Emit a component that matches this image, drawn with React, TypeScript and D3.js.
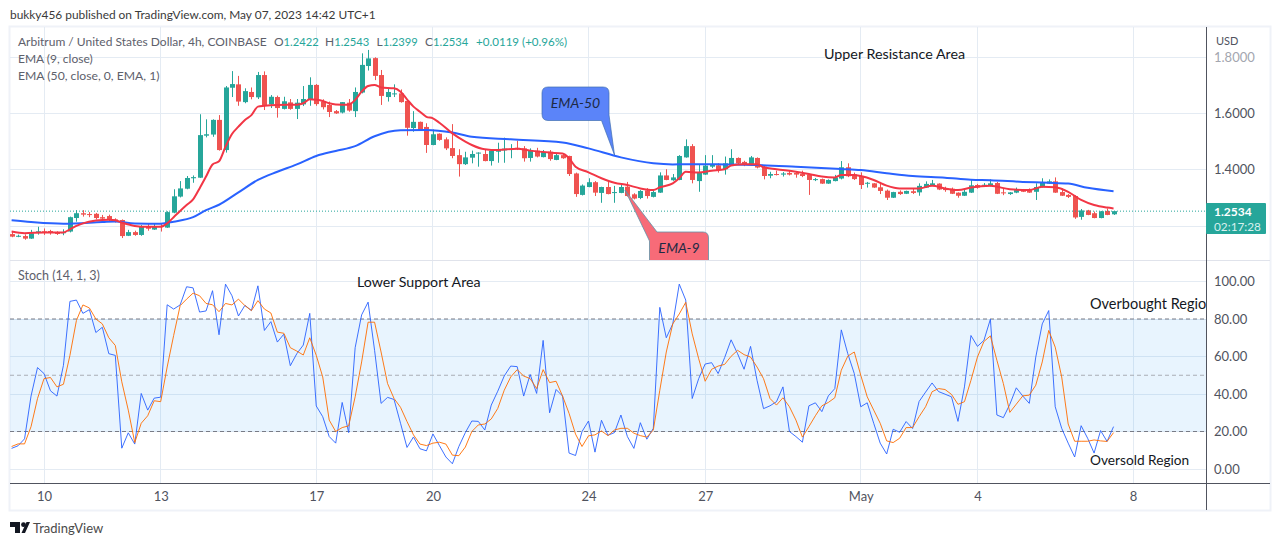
import * as d3 from "d3";
import { useEffect, useRef } from "react";

const WIDTH = 1280;
const HEIGHT = 546;

const dayTicks = ["2023-04-10", "2023-04-13", "2023-04-17", "2023-04-20", "2023-04-24", "2023-04-27", "2023-05-01", "2023-05-04", "2023-05-08"];
const dayLabels = ["10", "13", "17", "20", "24", "27", "May", "4", "8"];
const priceGrid = [1.8, 1.6, 1.4, 1.2];
const priceLabels = [1.8, 1.6, 1.4];
const stochTicks = [100, 80, 60, 40, 20, 0];
const stochLevels = [80, 50, 20];

// first 4h bar, every row below is one bar after it
const firstBar = Date.UTC(2023, 3, 9, 4);
const barMs = 4 * 3600 * 1000;

// open, high, low, close
const ohlc: number[][] = [
  [1.172, 1.181, 1.161, 1.163], [1.164, 1.170, 1.161, 1.166], [1.165, 1.171, 1.152, 1.156], [1.156, 1.187, 1.155, 1.175],
  [1.177, 1.198, 1.170, 1.182], [1.182, 1.192, 1.169, 1.177], [1.183, 1.187, 1.170, 1.176], [1.176, 1.182, 1.169, 1.174],
  [1.175, 1.189, 1.168, 1.179], [1.181, 1.234, 1.178, 1.232], [1.229, 1.257, 1.216, 1.246], [1.246, 1.257, 1.234, 1.241],
  [1.243, 1.250, 1.232, 1.240], [1.244, 1.247, 1.224, 1.229], [1.232, 1.240, 1.222, 1.227], [1.236, 1.241, 1.217, 1.222],
  [1.224, 1.228, 1.213, 1.220], [1.222, 1.224, 1.158, 1.165], [1.166, 1.187, 1.165, 1.179], [1.179, 1.184, 1.166, 1.169],
  [1.169, 1.204, 1.166, 1.198], [1.198, 1.208, 1.184, 1.191], [1.188, 1.208, 1.187, 1.197], [1.201, 1.210, 1.181, 1.197],
  [1.195, 1.253, 1.194, 1.250], [1.248, 1.331, 1.246, 1.306], [1.305, 1.360, 1.302, 1.334], [1.333, 1.378, 1.331, 1.371],
  [1.370, 1.380, 1.354, 1.374], [1.372, 1.597, 1.371, 1.523], [1.521, 1.579, 1.515, 1.526], [1.525, 1.579, 1.517, 1.577],
  [1.577, 1.594, 1.468, 1.470], [1.470, 1.697, 1.461, 1.692], [1.691, 1.750, 1.658, 1.704], [1.703, 1.733, 1.627, 1.642],
  [1.640, 1.689, 1.636, 1.679], [1.676, 1.692, 1.650, 1.658], [1.657, 1.747, 1.651, 1.736], [1.736, 1.749, 1.612, 1.627],
  [1.632, 1.665, 1.619, 1.659], [1.658, 1.663, 1.585, 1.619], [1.616, 1.659, 1.614, 1.643], [1.639, 1.651, 1.613, 1.616],
  [1.616, 1.651, 1.580, 1.638], [1.632, 1.697, 1.626, 1.651], [1.648, 1.728, 1.627, 1.701], [1.701, 1.704, 1.627, 1.633],
  [1.642, 1.650, 1.614, 1.622], [1.630, 1.642, 1.587, 1.605], [1.608, 1.612, 1.598, 1.600], [1.603, 1.640, 1.600, 1.640],
  [1.638, 1.651, 1.606, 1.610], [1.608, 1.692, 1.587, 1.676], [1.674, 1.813, 1.671, 1.772], [1.768, 1.825, 1.752, 1.795],
  [1.796, 1.799, 1.718, 1.733], [1.736, 1.754, 1.630, 1.662], [1.658, 1.691, 1.642, 1.676], [1.669, 1.703, 1.658, 1.671],
  [1.671, 1.685, 1.638, 1.640], [1.644, 1.645, 1.521, 1.549], [1.548, 1.608, 1.535, 1.570], [1.570, 1.571, 1.539, 1.541],
  [1.552, 1.565, 1.460, 1.488], [1.488, 1.543, 1.487, 1.526], [1.528, 1.529, 1.503, 1.506], [1.508, 1.515, 1.470, 1.476],
  [1.477, 1.562, 1.441, 1.449], [1.452, 1.473, 1.376, 1.420], [1.420, 1.464, 1.417, 1.444], [1.443, 1.468, 1.423, 1.456],
  [1.458, 1.462, 1.411, 1.461], [1.456, 1.473, 1.430, 1.431], [1.431, 1.473, 1.415, 1.467], [1.464, 1.496, 1.425, 1.470],
  [1.469, 1.514, 1.425, 1.475], [1.473, 1.491, 1.441, 1.474], [1.478, 1.503, 1.470, 1.473], [1.476, 1.484, 1.429, 1.441],
  [1.442, 1.476, 1.429, 1.468], [1.468, 1.478, 1.444, 1.447], [1.445, 1.470, 1.444, 1.463], [1.464, 1.470, 1.432, 1.438],
  [1.435, 1.458, 1.434, 1.452], [1.452, 1.458, 1.439, 1.441], [1.449, 1.450, 1.378, 1.385], [1.387, 1.390, 1.304, 1.314],
  [1.311, 1.348, 1.309, 1.344], [1.339, 1.370, 1.338, 1.356], [1.356, 1.360, 1.307, 1.319], [1.318, 1.340, 1.283, 1.339],
  [1.339, 1.358, 1.313, 1.314], [1.318, 1.343, 1.283, 1.321], [1.318, 1.346, 1.317, 1.339], [1.340, 1.357, 1.305, 1.307],
  [1.313, 1.317, 1.295, 1.298], [1.300, 1.328, 1.296, 1.325], [1.327, 1.335, 1.298, 1.307], [1.304, 1.331, 1.302, 1.321],
  [1.319, 1.391, 1.318, 1.380], [1.380, 1.402, 1.363, 1.364], [1.363, 1.385, 1.361, 1.373], [1.364, 1.452, 1.363, 1.449],
  [1.444, 1.508, 1.443, 1.484], [1.484, 1.491, 1.352, 1.364], [1.360, 1.417, 1.322, 1.390], [1.383, 1.452, 1.382, 1.415],
  [1.411, 1.452, 1.406, 1.417], [1.416, 1.423, 1.390, 1.399], [1.402, 1.447, 1.383, 1.423], [1.417, 1.473, 1.416, 1.442],
  [1.442, 1.444, 1.417, 1.423], [1.428, 1.432, 1.413, 1.418], [1.420, 1.449, 1.419, 1.444], [1.442, 1.444, 1.405, 1.408],
  [1.411, 1.416, 1.366, 1.378], [1.379, 1.393, 1.370, 1.385], [1.385, 1.397, 1.380, 1.382], [1.383, 1.392, 1.376, 1.387],
  [1.389, 1.396, 1.380, 1.383], [1.389, 1.392, 1.372, 1.383], [1.385, 1.397, 1.374, 1.378], [1.383, 1.385, 1.311, 1.364],
  [1.364, 1.371, 1.360, 1.367], [1.367, 1.369, 1.350, 1.351], [1.351, 1.366, 1.350, 1.364], [1.360, 1.382, 1.359, 1.373],
  [1.369, 1.431, 1.366, 1.409], [1.409, 1.423, 1.374, 1.377], [1.384, 1.390, 1.364, 1.367], [1.378, 1.391, 1.332, 1.346],
  [1.352, 1.357, 1.337, 1.354], [1.352, 1.353, 1.336, 1.337], [1.338, 1.357, 1.314, 1.325], [1.326, 1.330, 1.293, 1.301],
  [1.301, 1.322, 1.300, 1.321], [1.322, 1.327, 1.311, 1.314], [1.315, 1.326, 1.314, 1.325], [1.324, 1.332, 1.314, 1.318],
  [1.320, 1.352, 1.308, 1.343], [1.337, 1.359, 1.336, 1.350], [1.346, 1.364, 1.345, 1.352], [1.351, 1.352, 1.328, 1.330],
  [1.333, 1.340, 1.322, 1.328], [1.333, 1.337, 1.314, 1.315], [1.319, 1.320, 1.301, 1.308], [1.308, 1.333, 1.307, 1.322],
  [1.319, 1.364, 1.318, 1.345], [1.346, 1.350, 1.333, 1.337], [1.344, 1.353, 1.339, 1.347], [1.343, 1.366, 1.341, 1.352],
  [1.353, 1.357, 1.314, 1.315], [1.320, 1.333, 1.310, 1.317], [1.314, 1.321, 1.311, 1.320], [1.319, 1.337, 1.317, 1.328],
  [1.328, 1.332, 1.321, 1.322], [1.328, 1.334, 1.318, 1.319], [1.322, 1.352, 1.293, 1.339], [1.338, 1.370, 1.337, 1.354],
  [1.351, 1.366, 1.350, 1.359], [1.359, 1.373, 1.318, 1.319], [1.321, 1.334, 1.307, 1.308], [1.311, 1.314, 1.300, 1.304],
  [1.307, 1.310, 1.226, 1.231], [1.233, 1.261, 1.223, 1.256], [1.256, 1.258, 1.239, 1.240], [1.246, 1.252, 1.228, 1.229],
  [1.229, 1.254, 1.228, 1.253], [1.254, 1.263, 1.239, 1.240], [1.2422, 1.2543, 1.2399, 1.2534],
];

// [bar, price]
const ema9: number[][] = [
  [0, 1.181], [2, 1.175], [5, 1.178], [8, 1.178], [9, 1.189], [10, 1.201], [11, 1.21], [13, 1.22], [15, 1.223], [16, 1.221],
  [17, 1.213], [19, 1.201], [21, 1.198], [23, 1.198], [24, 1.21], [25, 1.232], [26, 1.254], [27, 1.275], [28, 1.295], [29, 1.334],
  [30, 1.376], [31, 1.419], [32, 1.43], [33, 1.482], [34, 1.527], [35, 1.553], [36, 1.577], [37, 1.594], [38, 1.624], [39, 1.627],
  [41, 1.63], [44, 1.631], [45, 1.636], [46, 1.65], [47, 1.648], [48, 1.644], [49, 1.636], [50, 1.632], [52, 1.631], [53, 1.648],
  [54, 1.677], [55, 1.697], [56, 1.701], [57, 1.692], [59, 1.689], [60, 1.677], [61, 1.65], [62, 1.624], [63, 1.606], [64, 1.588],
  [65, 1.5825], [66, 1.567], [68, 1.529], [70, 1.5], [71, 1.488], [73, 1.473], [75, 1.47], [78, 1.475], [80, 1.468], [83, 1.461],
  [85, 1.458], [86, 1.441], [87, 1.411], [89, 1.391], [91, 1.37], [93, 1.354], [95, 1.346], [97, 1.334], [99, 1.328], [100, 1.338],
  [102, 1.352], [103, 1.37], [104, 1.393], [106, 1.39], [108, 1.397], [110, 1.402], [111, 1.415], [113, 1.42], [115, 1.42], [116, 1.409],
  [118, 1.402], [121, 1.393], [123, 1.385], [125, 1.376], [127, 1.373], [128, 1.382], [130, 1.382], [131, 1.378], [133, 1.364], [135, 1.344],
  [137, 1.334], [140, 1.334], [142, 1.343], [144, 1.334], [146, 1.328], [148, 1.337], [151, 1.343], [154, 1.331], [157, 1.328], [159, 1.34],
  [161, 1.338], [163, 1.322], [165, 1.293], [167, 1.275], [169, 1.266], [170, 1.263],
];

const ema50: number[][] = [
  [0, 1.221], [3, 1.215], [8, 1.209], [14, 1.215], [16, 1.217], [19, 1.21], [23, 1.209], [25, 1.216], [28, 1.232], [30, 1.257],
  [32, 1.276], [35, 1.32], [38, 1.364], [41, 1.393], [44, 1.419], [47, 1.449], [50, 1.467], [53, 1.484], [56, 1.519], [60, 1.54],
  [64, 1.541], [68, 1.532], [71, 1.517], [77, 1.508], [85, 1.497], [89, 1.476], [94, 1.444], [99, 1.423], [102, 1.419], [104, 1.42],
  [110, 1.419], [115, 1.417], [121, 1.411], [128, 1.403], [131, 1.399], [135, 1.388], [139, 1.378], [144, 1.372], [148, 1.365], [151, 1.363],
  [156, 1.357], [160, 1.354], [163, 1.351], [166, 1.336], [170, 1.324],
];

const stochK = [
  11.0, 12.4, 16.1, 38.9, 54.1, 50.9, 41.7, 38.9, 55.3, 89.4, 90.1, 83.0, 85.0, 72.8, 75.6, 61.5, 60.6, 11.1, 19.3, 13.3,
  40.3, 31.4, 37.8, 38.3, 87.6, 85.3, 87.5, 97.2, 96.6, 83.7, 84.3, 95.1, 71.6, 98.6, 92.4, 81.6, 87.3, 84.5, 97.7, 73.9,
  78.6, 67.7, 71.9, 55.1, 61.5, 66.1, 83.0, 33.6, 27.9, 17.3, 13.8, 35.5, 19.4, 64.7, 82.2, 89.0, 63.3, 35.0, 38.2, 37.1,
  24.4, 11.5, 17.1, 10.8, 9.7, 18.7, 12.5, 6.4, 2.8, 12.0, 19.4, 25.6, 25.4, 20.8, 34.1, 41.5, 49.6, 54.9, 54.6, 38.9,
  50.4, 40.3, 68.6, 30.0, 42.4, 38.9, 8.5, 7.2, 20.0, 25.6, 9.0, 26.0, 18.0, 19.4, 28.8, 17.3, 11.0, 24.7, 15.9, 21.7,
  86.2, 70.0, 77.4, 98.6, 90.1, 37.6, 48.2, 56.0, 56.7, 50.9, 59.4, 68.9, 61.5, 53.2, 65.4, 47.3, 32.2, 33.7, 35.9, 43.8,
  20.0, 17.3, 14.3, 33.7, 35.3, 30.6, 39.0, 42.9, 74.2, 61.5, 50.9, 33.2, 35.3, 24.4, 13.8, 8.0, 21.2, 19.6, 25.3, 21.6,
  36.0, 41.0, 45.9, 41.3, 39.9, 38.5, 25.4, 43.8, 71.2, 65.4, 68.6, 79.9, 28.8, 27.4, 34.5, 43.3, 38.9, 35.0, 59.7, 77.4,
  84.5, 33.2, 21.7, 13.8, 6.4, 23.1, 16.4, 8.5, 20.5, 14.7, 22.6,
];

const stochD = [
  12.0, 13.4, 13.4, 22.6, 37.6, 48.2, 48.8, 43.8, 45.2, 60.6, 79.2, 87.5, 85.9, 80.0, 77.4, 70.0, 65.9, 46.5, 31.4, 14.1,
  24.4, 28.4, 36.4, 35.9, 54.4, 71.2, 87.1, 90.6, 93.8, 92.4, 88.3, 87.6, 83.9, 88.3, 87.5, 90.6, 87.1, 84.5, 89.8, 85.3,
  83.2, 73.0, 72.4, 64.7, 62.9, 60.8, 70.0, 60.6, 49.1, 26.1, 20.0, 22.1, 23.0, 38.5, 57.1, 78.3, 78.3, 62.4, 45.6, 37.6,
  32.9, 25.3, 18.2, 13.3, 12.5, 13.8, 14.3, 13.3, 7.4, 7.1, 11.7, 20.0, 23.5, 24.0, 26.7, 32.3, 42.0, 49.1, 53.0, 49.6,
  48.2, 42.9, 53.0, 46.1, 46.8, 38.9, 29.7, 18.6, 12.0, 17.7, 18.2, 20.3, 17.8, 20.8, 21.7, 21.7, 19.1, 17.8, 17.0, 20.8,
  42.0, 62.4, 77.4, 82.7, 88.9, 72.1, 58.8, 46.8, 53.2, 54.9, 55.8, 60.1, 63.3, 61.0, 59.7, 54.4, 48.2, 37.6, 34.1, 38.0,
  33.2, 26.1, 17.0, 22.6, 28.4, 33.7, 35.5, 38.0, 52.7, 60.2, 62.4, 50.0, 38.5, 31.4, 24.4, 15.0, 14.1, 16.4, 22.1, 22.1,
  27.9, 33.2, 41.2, 42.9, 42.4, 39.8, 34.5, 35.9, 47.3, 59.7, 68.0, 71.0, 58.0, 45.6, 30.2, 34.6, 39.0, 39.4, 44.7, 57.1,
  73.9, 65.0, 49.1, 24.0, 14.8, 14.8, 14.8, 15.5, 15.0, 14.7, 19.4,
];

const UP = "#26a69a";
const DOWN = "#ef5350";
const GRID = "#e4ebf3";
const BORDER = "#eff2f8";
const AXIS_LINE = "#50535e";
const LABEL = "#50535e";
const FONT = "Lato, sans-serif";

const PANE = { left: 10, right: 1206, outer: 1270, top: 27, split: 260, bottom: 483, foot: 510 };

export default function App() {
  const svgRef = useRef<SVGSVGElement>(null);

  useEffect(() => {
    if (!svgRef.current) return;
    document.body.style.margin = "0";

    const svg = d3.select(svgRef.current);
    svg.selectAll("*").remove();
    svg.style("font-family", FONT);

    const barDate = (i: number) => new Date(firstBar + i * barMs);
    const tickDates = dayTicks.map((d) => new Date(d + "T00:00:00Z"));

    const x = d3.scaleUtc().domain([tickDates[0], tickDates[8]]).range([44, 1133]);
    const y = d3.scaleLinear().domain([1.8, 1.2]).range([57, 226.2]);
    const yStoch = d3.scaleLinear().domain([100, 0]).range([281.5, 469]);

    const defs = svg.append("defs");
    defs.append("clipPath").attr("id", "main-clip").append("rect")
      .attr("x", PANE.left).attr("y", PANE.top)
      .attr("width", PANE.right - PANE.left).attr("height", PANE.split - PANE.top);
    defs.append("clipPath").attr("id", "stoch-clip").append("rect")
      .attr("x", PANE.left).attr("y", PANE.split)
      .attr("width", PANE.right - PANE.left).attr("height", PANE.bottom - PANE.split);

    // Frame
    svg.append("rect")
      .attr("x", 9.5).attr("y", 26.5)
      .attr("width", PANE.outer - 9).attr("height", PANE.foot - 26)
      .attr("fill", "#fff").attr("stroke", BORDER).attr("stroke-width", 2);

    const grid = svg.append("g").attr("stroke", GRID).attr("shape-rendering", "crispEdges");
    tickDates.forEach((d) => {
      grid.append("line").attr("x1", x(d)).attr("x2", x(d)).attr("y1", PANE.top).attr("y2", PANE.bottom);
    });
    priceGrid.forEach((p) => {
      grid.append("line").attr("x1", PANE.left).attr("x2", PANE.right).attr("y1", y(p)).attr("y2", y(p));
    });
    stochTicks.forEach((v) => {
      grid.append("line").attr("x1", PANE.left).attr("x2", PANE.right).attr("y1", yStoch(v)).attr("y2", yStoch(v));
    });

    // Candles
    const main = svg.append("g").attr("clip-path", "url(#main-clip)");
    const candles = main.selectAll("g.candle").data(ohlc).enter().append("g");
    candles.append("line")
      .attr("x1", (_, i) => Math.round(x(barDate(i))) + 0.5)
      .attr("x2", (_, i) => Math.round(x(barDate(i))) + 0.5)
      .attr("y1", (d) => y(d[1]))
      .attr("y2", (d) => y(d[2]))
      .attr("stroke", (d) => (d[3] >= d[0] ? UP : DOWN));
    candles.append("rect")
      .attr("x", (_, i) => Math.round(x(barDate(i))) - 2)
      .attr("width", 5)
      .attr("y", (d) => y(Math.max(d[0], d[3])))
      .attr("height", (d) => Math.max(1, Math.abs(y(d[0]) - y(d[3]))))
      .attr("fill", (d) => (d[3] >= d[0] ? UP : DOWN));

    // Last price line
    main.append("line")
      .attr("x1", PANE.left).attr("x2", PANE.right)
      .attr("y1", y(1.2534)).attr("y2", y(1.2534))
      .attr("stroke", UP).attr("stroke-dasharray", "1 2");

    const emaLine = d3.line<number[]>()
      .x((d) => x(barDate(d[0])))
      .y((d) => y(d[1]))
      .curve(d3.curveMonotoneX);
    main.append("path").datum(ema50).attr("fill", "none").attr("stroke", "#2962ff").attr("stroke-width", 2).attr("d", emaLine);
    main.append("path").datum(ema9).attr("fill", "none").attr("stroke", "#f23645").attr("stroke-width", 2).attr("d", emaLine);

    // Callouts
    main.append("path")
      .attr("d", "M548 87H603Q609 87 609 93V115L614.5 155L601.5 120.5H548Q542 120.5 542 114V93Q542 87 548 87Z")
      .attr("fill", "#5b84f9").attr("stroke", "#3f6fb0").attr("stroke-width", 0.7);
    main.append("path")
      .attr("d", "M625 190L657 232H703Q708.5 232 708.5 238V266H649.5V241Z")
      .attr("fill", "#f76b78").attr("stroke", "#5f93a8").attr("stroke-width", 0.8);
    const callouts = [["EMA-50", 575.5, 108], ["EMA-9", 679, 253]] as const;
    callouts.forEach(([t, cx, by]) => {
      svg.append("text").attr("x", cx).attr("y", by).attr("text-anchor", "middle")
        .attr("font-size", 14).attr("font-style", "italic").attr("fill", "#1e2a44").text(t);
    });

    // Stochastic pane
    const stoch = svg.append("g").attr("clip-path", "url(#stoch-clip)");
    stoch.append("rect")
      .attr("x", PANE.left).attr("width", PANE.right - PANE.left)
      .attr("y", yStoch(80)).attr("height", yStoch(20) - yStoch(80))
      .attr("fill", "#2196f3").attr("fill-opacity", 0.1);
    stochLevels.forEach((v) => {
      stoch.append("line")
        .attr("x1", PANE.left).attr("x2", PANE.right)
        .attr("y1", yStoch(v)).attr("y2", yStoch(v))
        .attr("stroke", v === 50 ? "#a9adb5" : "#787b86")
        .attr("stroke-dasharray", "4 3");
    });
    const stochLine = d3.line<number>()
      .x((_, i) => x(barDate(i)))
      .y((d) => yStoch(d));
    stoch.append("path").datum(stochK).attr("fill", "none").attr("stroke", "#2962ff").attr("stroke-opacity", 0.9).attr("stroke-width", 1).attr("d", stochLine);
    stoch.append("path").datum(stochD).attr("fill", "none").attr("stroke", "#ff6d00").attr("stroke-opacity", 0.9).attr("stroke-width", 1).attr("d", stochLine);

    // Pane lines
    const lines = svg.append("g").attr("shape-rendering", "crispEdges");
    lines.append("line").attr("x1", PANE.left).attr("x2", PANE.outer).attr("y1", PANE.split + 0.5).attr("y2", PANE.split + 0.5).attr("stroke", "#e0e3eb");
    lines.append("line").attr("x1", PANE.left).attr("x2", PANE.outer).attr("y1", PANE.bottom + 0.5).attr("y2", PANE.bottom + 0.5).attr("stroke", AXIS_LINE);
    lines.append("line").attr("x1", PANE.right + 0.5).attr("x2", PANE.right + 0.5).attr("y1", PANE.top).attr("y2", PANE.foot).attr("stroke", AXIS_LINE);

    // Axes
    const styleAxis = (g: d3.Selection<SVGGElement, unknown, null, undefined>) => {
      g.select(".domain").remove();
      g.selectAll("text").attr("fill", LABEL).attr("font-size", 13).attr("font-family", FONT);
    };
    svg.append("g")
      .attr("transform", `translate(0,${PANE.bottom + 6})`)
      .call(d3.axisBottom(x).tickValues(tickDates).tickSize(0).tickFormat((_, i) => dayLabels[i]))
      .call(styleAxis);
    const priceAxis = svg.append("g")
      .attr("transform", `translate(${PANE.right + 5},0)`)
      .call(d3.axisRight(y).tickValues(priceLabels).tickSize(0).tickFormat(d3.format(".4f")))
      .call(styleAxis);
    priceAxis.selectAll("text").filter((d) => d === 1.8).attr("fill", "#a3a6af");
    svg.append("g")
      .attr("transform", `translate(${PANE.right + 5},0)`)
      .call(d3.axisRight(yStoch).tickValues(stochTicks).tickSize(0).tickFormat(d3.format(".2f")))
      .call(styleAxis);

    // Last price tag
    svg.append("rect").attr("x", PANE.right).attr("y", 203).attr("width", 60).attr("height", 31).attr("rx", 1).attr("fill", UP);
    svg.append("text").attr("x", 1214).attr("y", 216).attr("font-size", 12).attr("font-weight", 700).attr("fill", "#fff").text("1.2534");
    svg.append("text").attr("x", 1214).attr("y", 231).attr("font-size", 11.8).attr("fill", "#d8f0ee").text("02:17:28");
    svg.append("text").attr("x", 1216).attr("y", 45).attr("font-size", 11).attr("fill", LABEL).text("USD");

    // Text
    const label = (t: string, tx: number, ty: number, size: number, fill: string) =>
      svg.append("text").attr("x", tx).attr("y", ty).attr("font-size", size).attr("fill", fill).text(t);

    label("bukky456 published on TradingView.com, May 07, 2023 14:42 UTC+1", 10, 19, 11.9, "#3a3a3a");
    label("Arbitrum / United States Dollar, 4h, COINBASE", 18, 46, 12, "#5d606b");
    label("EMA (9, close)", 18, 63, 12, "#5d606b");
    label("EMA (50, close, 0, EMA, 1)", 18, 80, 12.2, "#5d606b");
    label("Stoch (14, 1, 3)", 18, 280, 12.5, "#5d606b");

    const legend = [
      ["O", "1.2422", 274], ["H", "1.2543", 325], ["L", "1.2399", 376.5], ["C", "1.2534", 425],
    ] as const;
    legend.forEach(([k, v, lx]) => {
      const t = label(k, lx, 46, 12, "#5d606b");
      t.append("tspan").attr("fill", UP).attr("font-size", 11.2).text(v);
    });
    label("+0.0119 (+0.96%)", 476, 46, 11.6, UP);

    label("Upper Resistance Area", 824, 59, 14.3, "#131722");
    label("Lower Support Area", 357, 287, 14.2, "#131722");
    label("Oversold Region", 1090, 465, 13.7, "#131722");
    label("Overbought Region", 1090, 309, 14.5, "#131722").attr("clip-path", "url(#stoch-clip)");

    // Footer logo
    svg.append("path").attr("d", "M10 522H20V533H15V527H10Z M21.5 533L26.5 522H30L25 533Z").attr("fill", "#131722");
    svg.append("circle").attr("cx", 23.5).attr("cy", 524.7).attr("r", 2.4).attr("fill", "#131722");
    label("TradingView", 33, 533, 13, "#4a4a4a");
  }, []);

  return <svg ref={svgRef} width={WIDTH} height={HEIGHT} style={{ display: "block" }} />;
}
